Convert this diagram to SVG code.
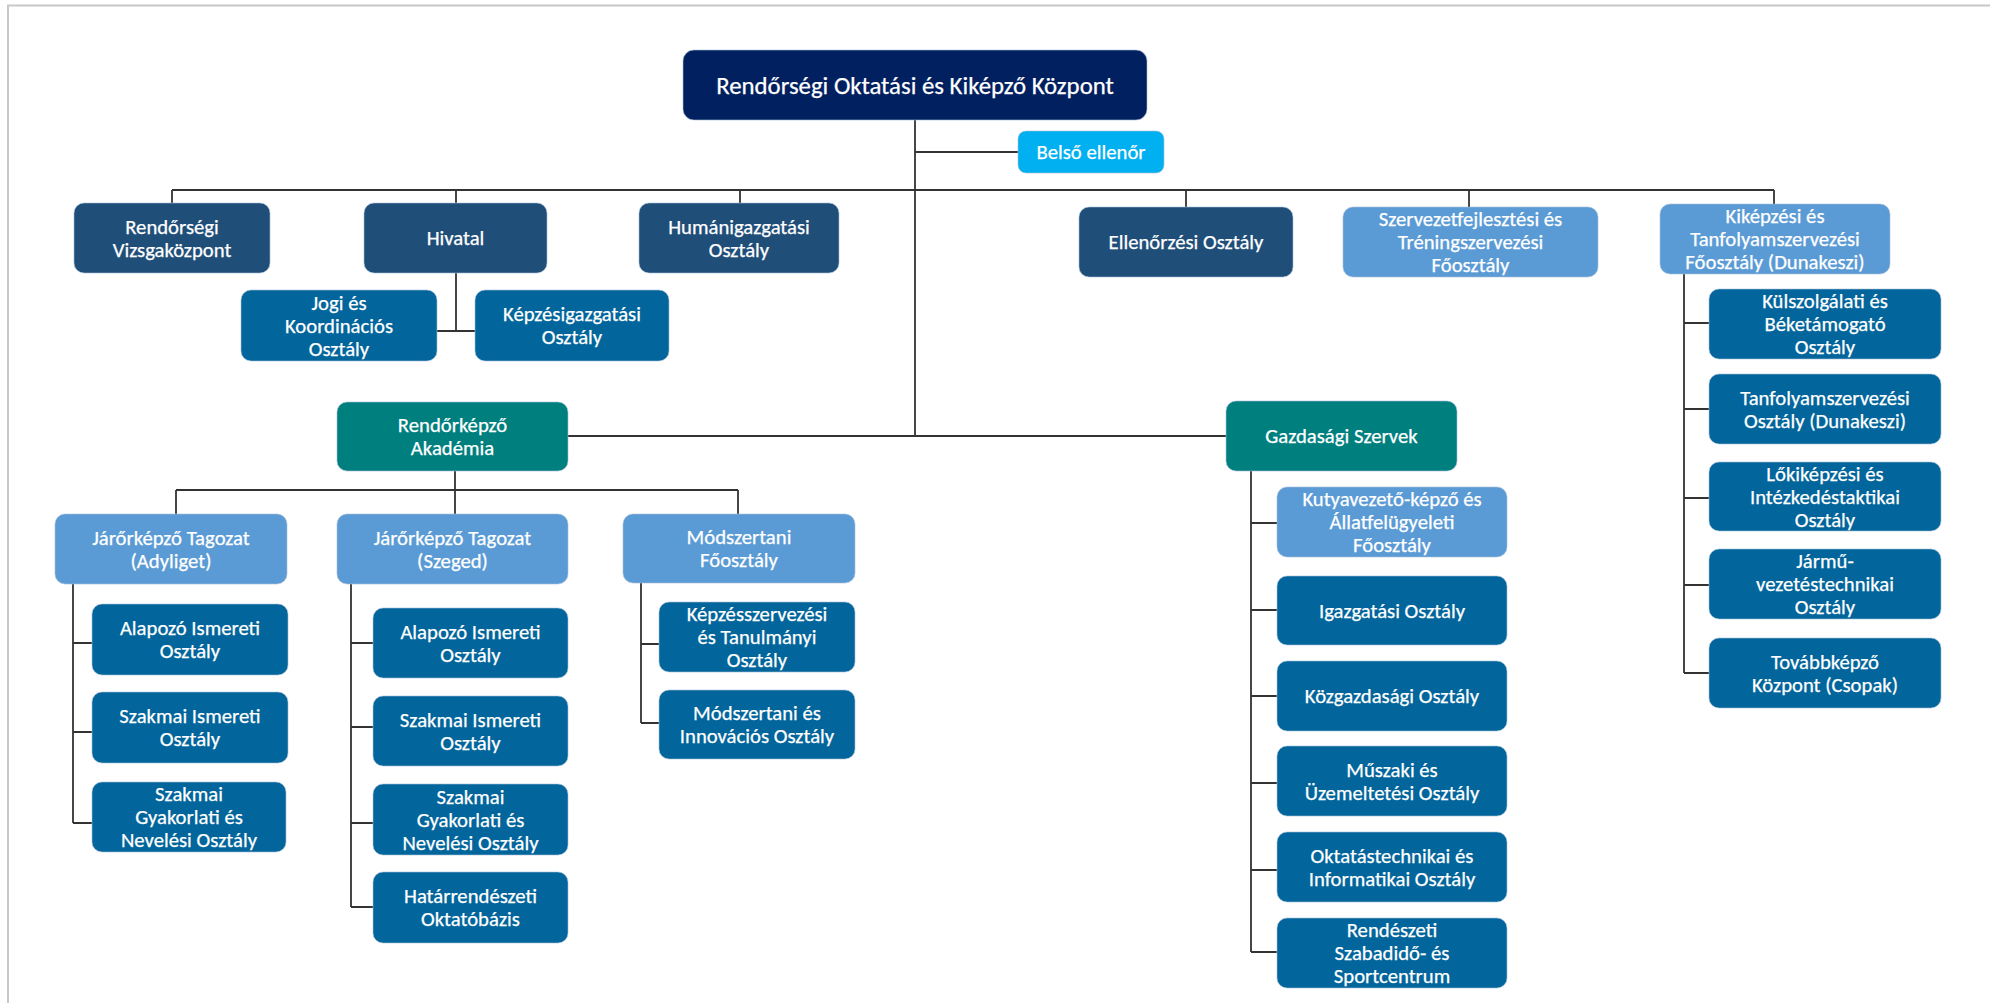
<svg xmlns="http://www.w3.org/2000/svg" width="1990" height="1003" viewBox="0 0 1990 1003">
<style>
.bg{fill:#ffffff}
.frame{stroke:#c8c8c8;stroke-width:2;fill:none}
.c path{stroke:#333333;stroke-width:1.8;fill:none}
.n rect{stroke:#a9bfd9;stroke-width:1;stroke-opacity:0.6}
.root rect{fill:#002060}
.ins rect{fill:#00b0f0}
.dk rect{fill:#1f4e79}
.lt rect{fill:#5b9bd5}
.tl rect{fill:#007f7f}
.sb rect{fill:#02659b}
.n text{fill:#ffffff;stroke:#ffffff;stroke-width:0.25;font-family:Carlito,Calibri,Lato,"Liberation Sans",sans-serif;font-size:20.7px;text-anchor:middle}
.root text{font-size:24.8px}
</style>
<rect class="bg" x="0" y="0" width="1990" height="1003"/>
<path class="frame" d="M8,1003 V5.5 H1990"/>
<g class="c" id="connectors">
<path d="M915,120 V436"/>
<path d="M915,152 H1018"/>
<path d="M172,190 H1774"/>
<path d="M172,190 V203 M456,190 V203 M740,190 V203 M1186,190 V207 M1469,190 V207 M1774,190 V204"/>
<path d="M456,273 V331 M437,331 H475"/>
<path d="M568,436 H1226"/>
<path d="M455,471 V490 M176,490 H738 M176,490 V514 M455,490 V514 M738,490 V514"/>
<path d="M73,584 V823 M73,643 H92 M73,732 H92 M73,823 H92"/>
<path d="M351,584 V907 M351,643 H373 M351,727 H373 M351,823 H373 M351,907 H373"/>
<path d="M641,583 V723 M641,644 H659 M641,723 H659"/>
<path d="M1251,471 V952 M1251,523 H1277 M1251,610 H1277 M1251,696 H1277 M1251,783 H1277 M1251,870 H1277 M1251,952 H1277"/>
<path d="M1684,274 V673 M1684,323 H1709 M1684,409 H1709 M1684,498 H1709 M1684,585 H1709 M1684,673 H1709"/>
</g>

<g class="n root" id="rokk"><rect x="683" y="50" width="464" height="70" rx="11"/><text x="915" y="94">Rendőrségi Oktatási és Kiképző Központ</text></g>
<g class="n ins" id="belso"><rect x="1018" y="131" width="146" height="42" rx="8"/><text x="1091" y="159">Belső ellenőr</text></g>

<g class="n dk" id="vizsga"><rect x="74" y="203" width="196" height="70" rx="10"/><text x="172" y="233.5">Rendőrségi</text><text x="172" y="256.5">Vizsgaközpont</text></g>
<g class="n dk" id="hivatal"><rect x="364" y="203" width="183" height="70" rx="10"/><text x="455.5" y="245">Hivatal</text></g>
<g class="n dk" id="human"><rect x="639" y="203" width="200" height="70" rx="10"/><text x="739" y="233.5">Humánigazgatási</text><text x="739" y="256.5">Osztály</text></g>
<g class="n dk" id="ellenorzes"><rect x="1079" y="207" width="214" height="70" rx="10"/><text x="1186" y="249">Ellenőrzési Osztály</text></g>
<g class="n lt" id="szervezet"><rect x="1343" y="207" width="255" height="70" rx="10"/><text x="1470.5" y="226">Szervezetfejlesztési és</text><text x="1470.5" y="249">Tréningszervezési</text><text x="1470.5" y="272">Főosztály</text></g>
<g class="n lt" id="kikepzesi"><rect x="1660" y="204" width="230" height="70" rx="10"/><text x="1775" y="223">Kiképzési és</text><text x="1775" y="246">Tanfolyamszervezési</text><text x="1775" y="269">Főosztály (Dunakeszi)</text></g>

<g class="n sb" id="jogi"><rect x="241" y="290" width="196" height="71" rx="10"/><text x="339" y="309.5">Jogi és</text><text x="339" y="332.5">Koordinációs</text><text x="339" y="355.5">Osztály</text></g>
<g class="n sb" id="kepzesig"><rect x="475" y="290" width="194" height="71" rx="10"/><text x="572" y="321">Képzésigazgatási</text><text x="572" y="344">Osztály</text></g>

<g class="n sb" id="kulszolg"><rect x="1709" y="289" width="232" height="70" rx="10"/><text x="1825" y="308">Külszolgálati és</text><text x="1825" y="331">Béketámogató</text><text x="1825" y="354">Osztály</text></g>
<g class="n sb" id="tanfoly"><rect x="1709" y="374" width="232" height="70" rx="10"/><text x="1825" y="404.5">Tanfolyamszervezési</text><text x="1825" y="427.5">Osztály (Dunakeszi)</text></g>
<g class="n sb" id="lokikepzes"><rect x="1709" y="462" width="232" height="69" rx="10"/><text x="1825" y="480.5">Lőkiképzési és</text><text x="1825" y="503.5">Intézkedéstaktikai</text><text x="1825" y="526.5">Osztály</text></g>
<g class="n sb" id="jarmu"><rect x="1709" y="549" width="232" height="70" rx="10"/><text x="1825" y="568">Jármű-</text><text x="1825" y="591">vezetéstechnikai</text><text x="1825" y="614">Osztály</text></g>
<g class="n sb" id="tovabbkepzo"><rect x="1709" y="638" width="232" height="70" rx="10"/><text x="1825" y="668.5">Továbbképző</text><text x="1825" y="691.5">Központ (Csopak)</text></g>

<g class="n tl" id="akademia"><rect x="337" y="402" width="231" height="69" rx="10"/><text x="452.5" y="432">Rendőrképző</text><text x="452.5" y="455">Akadémia</text></g>
<g class="n tl" id="gazdasagi"><rect x="1226" y="401" width="231" height="70" rx="10"/><text x="1341.5" y="443">Gazdasági Szervek</text></g>

<g class="n lt" id="adyliget"><rect x="55" y="514" width="232" height="70" rx="10"/><text x="171" y="544.5">Járőrképző Tagozat</text><text x="171" y="567.5">(Adyliget)</text></g>
<g class="n lt" id="szeged"><rect x="337" y="514" width="231" height="70" rx="10"/><text x="452.5" y="544.5">Járőrképző Tagozat</text><text x="452.5" y="567.5">(Szeged)</text></g>
<g class="n lt" id="modszertani"><rect x="623" y="514" width="232" height="69" rx="10"/><text x="739" y="544">Módszertani</text><text x="739" y="567">Főosztály</text></g>

<g class="n sb" id="alapozo-a"><rect x="92" y="604" width="196" height="71" rx="10"/><text x="190" y="635">Alapozó Ismereti</text><text x="190" y="658">Osztály</text></g>
<g class="n sb" id="szakism-a"><rect x="92" y="692" width="196" height="71" rx="10"/><text x="190" y="723">Szakmai Ismereti</text><text x="190" y="746">Osztály</text></g>
<g class="n sb" id="szakgyak-a"><rect x="92" y="782" width="194" height="70" rx="10"/><text x="189" y="801">Szakmai</text><text x="189" y="824">Gyakorlati és</text><text x="189" y="847">Nevelési Osztály</text></g>

<g class="n sb" id="alapozo-s"><rect x="373" y="608" width="195" height="70" rx="10"/><text x="470.5" y="638.5">Alapozó Ismereti</text><text x="470.5" y="661.5">Osztály</text></g>
<g class="n sb" id="szakism-s"><rect x="373" y="696" width="195" height="70" rx="10"/><text x="470.5" y="726.5">Szakmai Ismereti</text><text x="470.5" y="749.5">Osztály</text></g>
<g class="n sb" id="szakgyak-s"><rect x="373" y="784" width="195" height="71" rx="10"/><text x="470.5" y="803.5">Szakmai</text><text x="470.5" y="826.5">Gyakorlati és</text><text x="470.5" y="849.5">Nevelési Osztály</text></g>
<g class="n sb" id="hatar"><rect x="373" y="872" width="195" height="71" rx="10"/><text x="470.5" y="903">Határrendészeti</text><text x="470.5" y="926">Oktatóbázis</text></g>

<g class="n sb" id="kepzesszerv"><rect x="659" y="602" width="196" height="70" rx="10"/><text x="757" y="621">Képzésszervezési</text><text x="757" y="644">és Tanulmányi</text><text x="757" y="667">Osztály</text></g>
<g class="n sb" id="modsz-innov"><rect x="659" y="690" width="196" height="69" rx="10"/><text x="757" y="720">Módszertani és</text><text x="757" y="743">Innovációs Osztály</text></g>

<g class="n lt" id="kutya"><rect x="1277" y="487" width="230" height="70" rx="10"/><text x="1392" y="506">Kutyavezető-képző és</text><text x="1392" y="529">Állatfelügyeleti</text><text x="1392" y="552">Főosztály</text></g>
<g class="n sb" id="igazgatasi"><rect x="1277" y="576" width="230" height="69" rx="10"/><text x="1392" y="617.5">Igazgatási Osztály</text></g>
<g class="n sb" id="kozgazd"><rect x="1277" y="661" width="230" height="70" rx="10"/><text x="1392" y="703">Közgazdasági Osztály</text></g>
<g class="n sb" id="muszaki"><rect x="1277" y="746" width="230" height="70" rx="10"/><text x="1392" y="776.5">Műszaki és</text><text x="1392" y="799.5">Üzemeltetési Osztály</text></g>
<g class="n sb" id="oktatastech"><rect x="1277" y="832" width="230" height="70" rx="10"/><text x="1392" y="862.5">Oktatástechnikai és</text><text x="1392" y="885.5">Informatikai Osztály</text></g>
<g class="n sb" id="rendeszeti"><rect x="1277" y="918" width="230" height="70" rx="10"/><text x="1392" y="937">Rendészeti</text><text x="1392" y="960">Szabadidő- és</text><text x="1392" y="983">Sportcentrum</text></g>
</svg>
